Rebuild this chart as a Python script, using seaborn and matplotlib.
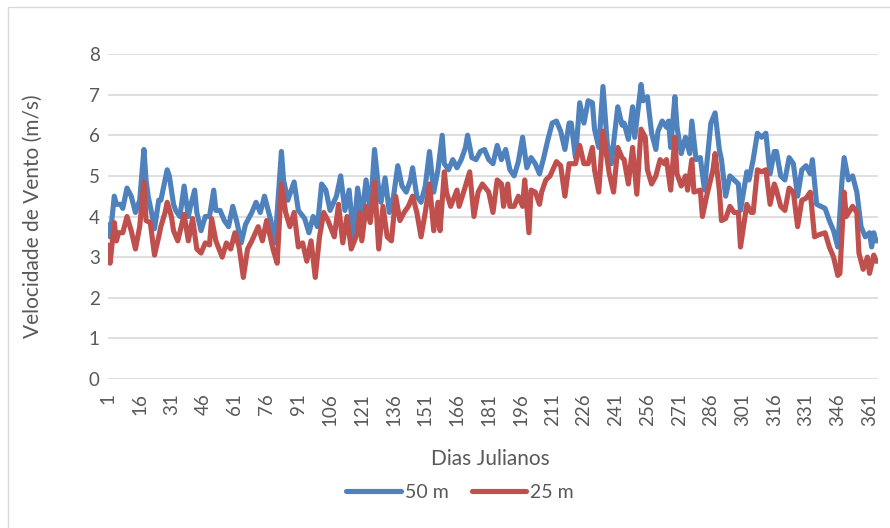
import matplotlib
matplotlib.use("Agg")
import matplotlib.pyplot as plt
import seaborn as sns
import pandas as pd
from matplotlib.patches import Rectangle

# (dia juliano, velocidade m/s)
vento_50m = [
    (1, 3.8), (2, 3.5), (4, 4.5), (5, 4.3), (7, 4.3), (8, 4.2), (10, 4.7), (12, 4.5),
    (14, 4.1), (16, 4.4), (18, 5.65), (19, 4.9), (20, 4.5), (22, 4.0), (23, 3.7),
    (25, 4.4), (26, 4.4), (28, 4.9), (29, 5.15), (30, 5.0), (32, 4.3), (33, 4.15),
    (35, 4.0), (37, 4.75), (39, 4.0), (40, 4.25), (42, 4.65), (43, 4.1), (45, 3.65),
    (47, 4.0), (49, 4.0), (51, 4.65), (52, 4.15), (54, 4.15), (56, 3.9), (58, 3.75),
    (60, 4.25), (62, 3.85), (64, 3.35), (66, 3.8), (69, 4.1), (71, 4.35), (73, 4.1),
    (75, 4.5), (78, 3.9), (80, 3.35), (83, 5.6), (84, 4.9), (86, 4.4), (89, 4.85),
    (91, 4.15), (94, 3.95), (96, 3.6), (98, 4.0), (100, 3.75), (102, 4.8), (104, 4.65),
    (106, 4.15), (109, 4.5), (111, 5.0), (113, 4.15), (115, 4.65), (117, 3.5),
    (119, 4.7), (121, 4.0), (123, 4.9), (125, 4.1), (127, 5.65), (129, 4.65),
    (130, 4.35), (132, 4.95), (134, 4.1), (136, 4.5), (138, 5.25), (140, 4.75),
    (142, 4.6), (144, 4.9), (145, 5.2), (147, 4.5), (149, 4.35), (151, 4.75),
    (153, 5.6), (155, 4.6), (157, 5.15), (159, 6.0), (160, 5.3), (162, 5.15),
    (164, 5.4), (166, 5.2), (168, 5.4), (170, 5.7), (171, 6.0), (173, 5.45),
    (175, 5.4), (177, 5.6), (179, 5.65), (181, 5.4), (183, 5.3), (185, 5.75),
    (187, 5.4), (189, 5.65), (191, 5.15), (193, 5.0), (195, 5.35), (197, 5.95),
    (199, 5.2), (201, 5.45), (203, 5.3), (205, 5.05), (207, 5.45), (209, 5.9),
    (211, 6.3), (213, 6.35), (215, 6.1), (217, 5.65), (219, 6.3), (220, 6.3),
    (222, 5.45), (224, 6.8), (226, 6.3), (228, 6.85), (230, 6.8), (231, 6.15),
    (233, 5.7), (235, 7.2), (237, 5.8), (239, 5.3), (240, 5.8), (242, 6.7),
    (244, 6.25), (245, 6.3), (247, 5.9), (249, 6.7), (250, 5.95), (253, 7.25),
    (254, 6.85), (256, 6.95), (258, 6.05), (260, 5.65), (261, 6.1), (263, 6.35),
    (265, 6.2), (266, 6.35), (267, 5.7), (269, 6.95), (270, 6.2), (272, 5.55),
    (274, 5.95), (276, 5.55), (277, 6.35), (279, 5.4), (281, 5.45), (283, 4.65),
    (284, 5.25), (286, 6.3), (288, 6.55), (290, 5.65), (291, 5.4), (293, 4.5),
    (295, 5.0), (297, 4.9), (299, 4.8), (300, 4.15), (303, 5.1), (304, 4.9),
    (306, 5.4), (308, 6.05), (310, 5.95), (312, 6.05), (314, 5.05), (316, 5.6),
    (317, 5.6), (319, 5.0), (321, 4.9), (323, 5.45), (325, 5.3), (327, 4.5),
    (329, 5.15), (331, 5.25), (333, 5.05), (334, 5.4), (336, 4.3), (338, 4.25),
    (340, 4.2), (342, 3.9), (344, 3.65), (346, 3.25), (348, 4.9), (349, 5.45),
    (351, 4.9), (353, 5.0), (355, 4.6), (357, 3.75), (359, 3.5), (361, 3.6),
    (362, 3.25), (363, 3.6), (364, 3.4), (365, 3.4),
]

vento_25m = [
    (1, 3.3), (2, 2.85), (4, 3.85), (5, 3.4), (6, 3.6), (8, 3.6), (10, 4.0), (12, 3.65),
    (14, 3.2), (16, 3.75), (18, 4.85), (19, 3.9), (21, 3.85), (23, 3.05), (25, 3.5),
    (26, 3.75), (28, 4.1), (29, 4.35), (31, 4.0), (32, 3.65), (34, 3.4), (37, 4.05),
    (39, 3.4), (41, 3.95), (43, 3.2), (45, 3.1), (47, 3.35), (49, 3.3), (50, 3.95),
    (52, 3.4), (55, 3.0), (57, 3.35), (59, 3.2), (61, 3.6), (63, 3.25), (65, 2.5),
    (67, 3.2), (69, 3.4), (72, 3.75), (74, 3.4), (76, 3.9), (79, 3.2), (81, 2.85),
    (83, 4.8), (85, 4.1), (87, 3.75), (89, 4.1), (91, 3.25), (93, 3.35), (95, 2.9),
    (97, 3.4), (99, 2.5), (101, 3.5), (103, 4.1), (105, 3.9), (108, 3.5), (110, 4.3),
    (112, 3.35), (114, 4.0), (116, 3.2), (119, 3.6), (120, 4.1), (121, 3.4),
    (123, 4.25), (125, 3.85), (127, 4.85), (129, 3.2), (131, 4.25), (133, 3.5),
    (135, 3.4), (137, 4.5), (139, 3.9), (141, 4.1), (143, 4.25), (145, 4.5),
    (147, 4.1), (149, 3.5), (151, 4.1), (153, 4.8), (155, 3.65), (157, 4.35),
    (158, 3.65), (160, 5.1), (161, 4.6), (163, 4.25), (166, 4.65), (167, 4.25),
    (170, 4.75), (172, 5.1), (174, 4.0), (176, 4.6), (178, 4.8), (181, 4.6),
    (183, 4.1), (185, 4.9), (187, 4.8), (188, 4.25), (190, 4.8), (191, 4.25),
    (193, 4.25), (195, 4.5), (197, 4.25), (198, 4.9), (200, 3.6), (201, 4.65),
    (203, 4.6), (205, 4.3), (206, 4.6), (208, 4.9), (210, 5.0), (213, 5.35),
    (215, 5.25), (217, 4.5), (219, 5.3), (221, 5.3), (222, 5.3), (224, 5.75),
    (226, 5.3), (228, 5.3), (230, 5.7), (231, 5.15), (233, 4.6), (235, 6.1),
    (238, 5.05), (240, 4.6), (242, 5.7), (244, 5.45), (245, 5.4), (247, 4.8),
    (249, 5.7), (251, 4.55), (253, 6.15), (255, 5.95), (256, 5.15), (258, 4.8),
    (260, 5.0), (262, 5.4), (264, 5.3), (265, 5.4), (267, 4.65), (269, 5.95),
    (270, 5.05), (272, 4.75), (274, 5.0), (275, 4.65), (277, 5.4), (278, 4.6),
    (281, 4.65), (282, 4.0), (284, 4.5), (287, 5.15), (288, 5.55), (290, 4.65),
    (291, 3.9), (293, 3.95), (295, 4.25), (297, 4.1), (299, 4.1), (300, 3.25),
    (303, 4.3), (305, 4.1), (306, 4.1), (308, 5.15), (310, 5.1), (312, 5.15),
    (314, 4.3), (316, 4.8), (317, 4.65), (319, 4.25), (321, 4.15), (323, 4.7),
    (325, 4.6), (327, 3.75), (329, 4.4), (331, 4.45), (333, 4.6), (335, 3.5),
    (337, 3.55), (340, 3.6), (342, 3.25), (344, 3.0), (346, 2.55), (347, 2.6),
    (349, 4.6), (350, 4.0), (353, 4.25), (355, 4.1), (356, 3.1), (358, 2.7),
    (360, 3.0), (361, 2.6), (363, 3.05), (364, 2.9), (365, 2.9),
]

dias_ticks = list(range(1, 366, 15))
y_ticks = list(range(0, 9))

df50 = pd.DataFrame(vento_50m, columns=['dia', 'vel'])
df25 = pd.DataFrame(vento_25m, columns=['dia', 'vel'])

sns.set_style("white")
plt.rcParams['font.family'] = ['Lato', 'DejaVu Sans']
cinza = '#595959'

fig = plt.figure(figsize=(8.9, 5.28), dpi=100)
ax = fig.add_axes([0.1213, 0.2822, 0.8652, 0.6155])

kw = dict(lw=3.7, estimator=None, sort=False, ax=ax)
sns.lineplot(data=df50, x='dia', y='vel', color='#4F81BD', label='50 m', **kw)
sns.lineplot(data=df25, x='dia', y='vel', color='#C0504D', label='25 m', **kw)
for ln in ax.lines:
    ln.set_solid_joinstyle('round')
    ln.set_solid_capstyle('round')

ax.set_xlim(1, 365)
ax.set_ylim(0, 8)
ax.set_xticks(dias_ticks)
ax.set_xticklabels([str(d) for d in dias_ticks], rotation=90)
ax.set_yticks(y_ticks)
ax.tick_params(axis='both', labelsize=13.5, colors=cinza, length=0, pad=6)
ax.tick_params(axis='x', pad=10)
ax.grid(axis='y', color='#D9D9D9', lw=1.2)
ax.set_axisbelow(True)
for s in ax.spines.values():
    s.set_visible(False)

ax.set_xlabel('Dias Julianos', fontsize=15, color=cinza)
ax.xaxis.set_label_coords(0.497, -0.215)
ax.set_ylabel('Velocidade de Vento (m/s)', fontsize=15, color=cinza)
ax.yaxis.set_label_coords(-0.084, 0.5)

ax.legend(loc='center', bbox_to_anchor=(0.457, -0.348), ncol=2, frameon=False,
          fontsize=14, handlelength=2.8, handletextpad=0.2, columnspacing=1.2,
          labelcolor=cinza)

fig.patches.append(Rectangle((8 / 890, -0.05), 1.1, 1 - 7 / 528 + 0.05,
                             transform=fig.transFigure, fill=False,
                             edgecolor='#D9D9D9', lw=1.0))

fig.savefig('out.png', dpi=100)
